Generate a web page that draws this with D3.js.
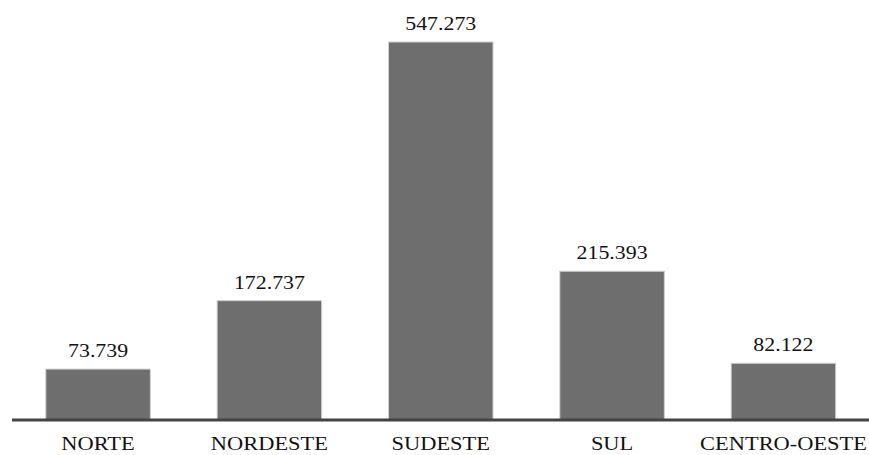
<html>
  <head>
    <script src="https://d3js.org/d3.v7.min.js"></script>
    <style>
      body { margin: 0; background: #fff; }
    </style>
  </head>
  <body>
    <svg id="chart" width="869" height="455"></svg>
    <script>
      const regions = ["NORTE", "NORDESTE", "SUDESTE", "SUL", "CENTRO-OESTE"];
      const totals = [73739, 172737, 547273, 215393, 82122];

      const svg = d3.select("#chart");
      const width = +svg.attr("width");
      const serif = "'Liberation Serif', 'Times New Roman', Tinos, 'DejaVu Serif', serif";

      const brFormat = d3.formatLocale({decimal: ",", thousands: ".", grouping: [3], currency: ["R$", ""]}).format(",d");

      const x = d3.scaleBand().domain(regions).range([-21, 902.5]).padding(0.39);
      const baseY = 420;
      const y = d3.scaleLinear().domain([0, 547273]).range([baseY, 42]);

      const data = regions.map((r, i) => ({region: r, total: totals[i]}));

      svg.selectAll("rect.bar").data(data)
        .join("rect")
          .attr("class", "bar")
          .attr("x", d => x(d.region))
          .attr("y", d => y(d.total))
          .attr("width", x.bandwidth())
          .attr("height", d => baseY - y(d.total))
          .style("fill", "#6e6e6e")
          .style("stroke", "#cfcfcf")
          .style("stroke-width", 1);

      // text in the reference is a bit wider than plain Times
      function stretch(sel, k) {
        sel.each(function() {
          const w = this.getComputedTextLength();
          d3.select(this).attr("textLength", w * k).attr("lengthAdjust", "spacingAndGlyphs");
        });
      }

      svg.selectAll("text.value").data(data)
        .join("text")
          .attr("class", "value")
          .attr("text-anchor", "middle")
          .attr("x", d => x(d.region) + x.bandwidth() / 2)
          .attr("y", d => y(d.total) - 12)
          .style("font-family", serif)
          .style("font-size", "19px")
          .style("fill", "#111")
          .text(d => brFormat(d.total))
          .call(stretch, 1.15);

      // base line
      svg.append("line")
        .attr("x1", 12).attr("x2", width)
        .attr("y1", baseY).attr("y2", baseY)
        .style("stroke", "#444")
        .style("stroke-width", 3);

      // category labels (last one kept inside the frame)
      svg.selectAll("text.cat").data(regions)
        .join("text")
          .attr("class", "cat")
          .attr("text-anchor", (d, i) => i === regions.length - 1 ? "end" : "middle")
          .attr("x", (d, i) => i === regions.length - 1 ? width - 2 : x(d) + x.bandwidth() / 2)
          .attr("y", 450)
          .style("font-family", serif)
          .style("font-size", "19px")
          .style("fill", "#111")
          .text(d => d)
          .call(stretch, 1.18);
    </script>
  </body>
</html>
